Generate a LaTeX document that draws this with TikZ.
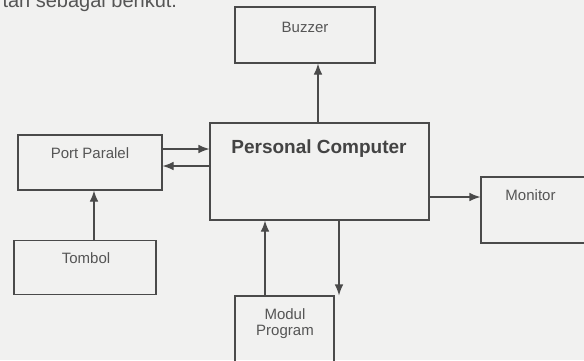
\documentclass[tikz,border=0pt]{standalone}
\usepackage{fontspec}
\setmainfont{Liberation Sans}
\usepackage{xcolor}
\usepackage{tikz}
\usetikzlibrary{arrows.meta,calc}

\definecolor{kertas}{HTML}{F1F1F0}
\definecolor{garis}{HTML}{4A4A4A}
\definecolor{tulisan}{HTML}{555555}

\begin{document}
\begin{tikzpicture}[x=1pt,y=1pt,
	blok/.style={draw=garis,line width=1.1pt,rectangle,inner sep=0pt},
	teks/.style={text=tulisan,font=\fontsize{15}{16}\selectfont,anchor=base},
	panah/.style={draw=garis,line width=1.1pt,-{Latex[length=11pt,width=8.5pt]}}]
	\useasboundingbox (0,0) rectangle (584,-360);
	\clip (0,0) rectangle (584,-360);
	\fill[kertas] (0,0) rectangle (584,-360);
	\node[anchor=base west,text=tulisan,font=\fontsize{20}{24}\selectfont] (kalimat) at (-1,-7.5) {tan sebagai berikut.};
	% kotak
	\node[blok,minimum width=140pt,minimum height=56pt] (buzzer) at (305,-35) {};
	\node[blok,minimum width=219pt,minimum height=97pt] (pc) at (319.5,-171.5) {};
	\node[blok,minimum width=144pt,minimum height=55pt] (port) at (90,-162.5) {};
	\node[blok,minimum width=142pt,minimum height=54pt] (tombol) at (85,-267.5) {};
	\node[blok,minimum width=120pt,minimum height=66pt] (monitor) at (541,-210) {};
	\node[blok,minimum width=99pt,minimum height=84pt] (modul) at (284.5,-338) {};
	% tulisan
	\node[teks] (t-buzzer) at (305,-32) {Buzzer};
	\node[teks,text=garis!90!black,font=\fontsize{19}{22}\selectfont\bfseries] (t-pc) at (319,-153) {Personal Computer};
	\node[teks] (t-port) at (90,-158) {Port Paralel};
	\node[teks] (t-tombol) at (86,-263) {Tombol};
	\node[teks] (t-monitor) at (530.5,-200) {Monitor};
	\node[teks,anchor=center,align=center] (t-modul) at (285,-324) {Modul\\Program};
	% panah
	\draw[panah] ([xshift=-1.5]pc.north) -- ([xshift=-1.5]pc.north |- buzzer.south);
	\draw[panah] ([yshift=13.5]port.east) -- ([yshift=13.5]port.east -| pc.west);
	\draw[panah] ([yshift=5.5]pc.west) -- ([yshift=5.5]pc.west -| port.east);
	\draw[panah] ([xshift=9]tombol.north) -- ([xshift=9]tombol.north |- port.south);
	\draw[panah] ([yshift=-25.5]pc.east) -- ([yshift=-25.5]pc.east -| monitor.west);
	\draw[panah] ([xshift=-19.5]modul.north) -- ([xshift=-19.5]modul.north |- pc.south);
	\draw[panah] ([xshift=19.5]pc.south) -- ([xshift=19.5]pc.south |- modul.north);
\end{tikzpicture}
\end{document}
